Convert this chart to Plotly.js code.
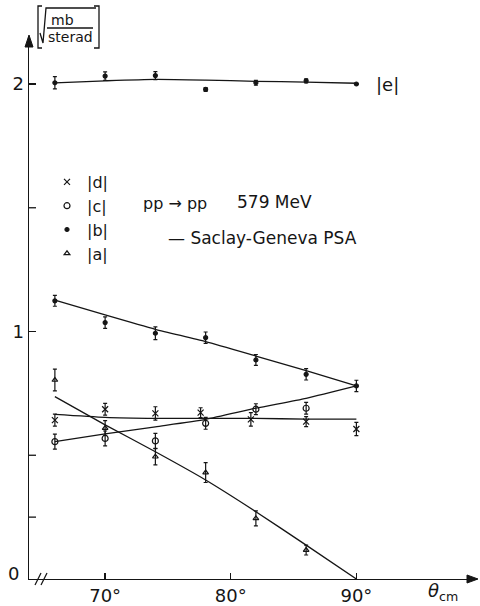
<!DOCTYPE html>
<html>
<head>
<meta charset="utf-8">
<script src="https://cdn.plot.ly/plotly-3.0.1.min.js"></script>
<style>html,body{margin:0;padding:0;background:#fff;}#chart{width:480px;height:606px;}</style>
</head>
<body>
<div id="chart"></div>
<script>
// ---- data ----
const angles   = [66, 70, 74, 78, 82, 86, 90];
const anglesD  = [66, 70, 74, 77.6, 81.6, 86, 90];
const anglesCA = [66, 70, 74, 78, 82, 86];

const eVals = [2.005, 2.032, 2.034, 1.978, 2.005, 2.013, 2.000];
const eErr  = [0.025, 0.017, 0.016, 0.008, 0.010, 0.008, 0.0];
const bVals = [1.124, 1.036, 0.993, 0.975, 0.885, 0.827, 0.780];
const bErr  = [0.022, 0.023, 0.026, 0.023, 0.022, 0.023, 0.023];
const cVals = [0.555, 0.568, 0.558, 0.629, 0.686, 0.690];
const cErr  = [0.030, 0.030, 0.030, 0.024, 0.022, 0.024];
const dVals = [0.642, 0.686, 0.669, 0.672, 0.645, 0.636, 0.606];
const dErr  = [0.024, 0.024, 0.027, 0.020, 0.027, 0.020, 0.027];
const aVals = [0.804, 0.610, 0.494, 0.430, 0.245, 0.117];
const aErr  = [0.044, 0.030, 0.033, 0.040, 0.030, 0.020];

// Saclay-Geneva PSA curves
const eCurve = [2.005, 2.013, 2.019, 2.016, 2.011, 2.008, 2.003];
const bCurve = [1.127, 1.067, 1.009, 0.959, 0.901, 0.842, 0.780];
const cCurve = [0.555, 0.586, 0.615, 0.645, 0.690, 0.730, 0.780];
const dCurve = [0.665, 0.653, 0.649, 0.649, 0.649, 0.646, 0.646];
const aCurve = [0.737, 0.623, 0.514, 0.400, 0.272, 0.137, 0.000];

const xTickVals = [70, 80, 90];
const xTickText = ['70°', '80°', '90°'];
const yTickVals = [1, 2];
const yTickText = ['1', '2'];
const yMinorTicks = [0.25, 0.5, 1.5];

// ---- layout helpers (pixel -> paper) ----
const L = 29, T = 36, W = 448, H = 543;
const px = x => (x - L) / W;
const py = y => (T + H - y) / H;

const ink = '#151515';
const FONT = 'DejaVu Sans, Liberation Sans, sans-serif';

function errY(arr) {
  return {type: 'data', array: arr, visible: true, color: ink, thickness: 1.2, width: 2};
}
function pts(name, x, y, err, symbol, size, show) {
  return {type: 'scatter', mode: 'markers', name: name, x: x, y: y,
    error_y: errY(err), showlegend: show, cliponaxis: false,
    marker: {symbol: symbol, size: size, color: ink, line: {color: ink, width: 1.2}}};
}
function curve(y) {
  return {type: 'scatter', mode: 'lines', x: angles, y: y, showlegend: false,
    hoverinfo: 'skip', line: {color: ink, width: 1.3, shape: 'spline', smoothing: 0.6}};
}

const traces = [
  curve(eCurve), curve(bCurve), curve(cCurve), curve(dCurve), curve(aCurve),
  pts('|d|', anglesD, dVals, dErr, 'x-thin-open', 6, true),
  pts('|c|', anglesCA, cVals, cErr, 'circle-open', 6, true),
  pts('|b|', angles, bVals, bErr, 'circle', 4, true),
  pts('|a|', anglesCA, aVals, aErr, 'triangle-up-open', 5, true),
  pts('|e|', angles, eVals, eErr, 'circle', 4, false)
];

const txt = (text, x, y, size, xanchor, extra) => Object.assign({
  text: text, xref: 'paper', yref: 'paper', x: px(x), y: py(y),
  xanchor: xanchor || 'center', yanchor: 'middle', showarrow: false,
  font: {family: FONT, size: size, color: ink}
}, extra || {});

const annotations = [
  txt('|e|', 387, 84, 18),
  txt('pp → pp', 175, 203, 16),
  txt('579 MeV', 274, 202, 17),
  txt('— Saclay-Geneva PSA', 166, 238, 17, 'left'),
  txt('<i>θ</i><sub>cm</sub>', 426, 592, 18, 'left'),
  txt('0', 13, 573, 18),
  txt('mb', 62, 20, 14),
  txt('sterad', 70, 37, 14)
];

const line = {color: ink, width: 1.3};
const shapes = [
  // y-axis unit bracket + radical
  {type: 'path', xref: 'paper', yref: 'paper', line: line,
   path: `M${px(42)},${py(6)} L${px(38)},${py(6)} L${px(38)},${py(48)} L${px(42)},${py(48)}`},
  {type: 'path', xref: 'paper', yref: 'paper', line: line,
   path: `M${px(94)},${py(6)} L${px(99)},${py(6)} L${px(99)},${py(48)} L${px(94)},${py(48)}`},
  {type: 'path', xref: 'paper', yref: 'paper', line: line,
   path: `M${px(40)},${py(33)} L${px(43)},${py(43)} L${px(46)},${py(8)} L${px(96)},${py(8)}`},
  {type: 'line', xref: 'paper', yref: 'paper', line: line,
   x0: px(47), x1: px(93), y0: py(28), y1: py(28)},
  // axis break marks
  {type: 'line', xref: 'paper', yref: 'paper', line: line,
   x0: px(35), x1: px(41), y0: py(585), y1: py(573)},
  {type: 'line', xref: 'paper', yref: 'paper', line: line,
   x0: px(41), x1: px(47), y0: py(585), y1: py(573)},
  // axis arrowheads
  {type: 'path', xref: 'paper', yref: 'paper', fillcolor: ink, line: {color: ink, width: 1},
   path: `M${px(478)},${py(579)} L${px(467)},${py(575)} L${px(467)},${py(583)} Z`},
  {type: 'path', xref: 'paper', yref: 'paper', fillcolor: ink, line: {color: ink, width: 1},
   path: `M${px(29)},${py(35)} L${px(25)},${py(47)} L${px(33)},${py(47)} Z`}
].concat(yMinorTicks.map(v => ({type: 'line', xref: 'paper', yref: 'y', line: line,
   x0: 0, x1: px(L + 7), y0: v, y1: v})));

const layout = {
  width: 480, height: 606,
  margin: {l: L, r: 480 - L - W, t: T, b: 606 - T - H, pad: 0},
  paper_bgcolor: '#fff', plot_bgcolor: '#fff',
  font: {family: FONT, size: 18, color: ink},
  showlegend: true,
  legend: {x: px(47), y: py(165), xanchor: 'left', yanchor: 'top',
    bgcolor: 'rgba(0,0,0,0)', font: {family: FONT, size: 16, color: ink},
    itemwidth: 30, tracegroupgap: 0},
  xaxis: {range: [63.94, 99.6], showgrid: false, zeroline: false,
    showline: true, linecolor: ink, linewidth: 1.4,
    ticks: 'inside', ticklen: 6, tickwidth: 1.3, tickcolor: ink,
    tickvals: xTickVals, ticktext: xTickText, tickfont: {size: 18}},
  yaxis: {range: [0, 2.194], showgrid: false, zeroline: false,
    showline: true, linecolor: ink, linewidth: 1.4,
    ticks: 'inside', ticklen: 7, tickwidth: 1.3, tickcolor: ink,
    tickvals: yTickVals, ticktext: yTickText, tickfont: {size: 18}},
  annotations: annotations,
  shapes: shapes
};

Plotly.newPlot('chart', traces, layout, {staticPlot: true, displayModeBar: false});
</script>
</body>
</html>
